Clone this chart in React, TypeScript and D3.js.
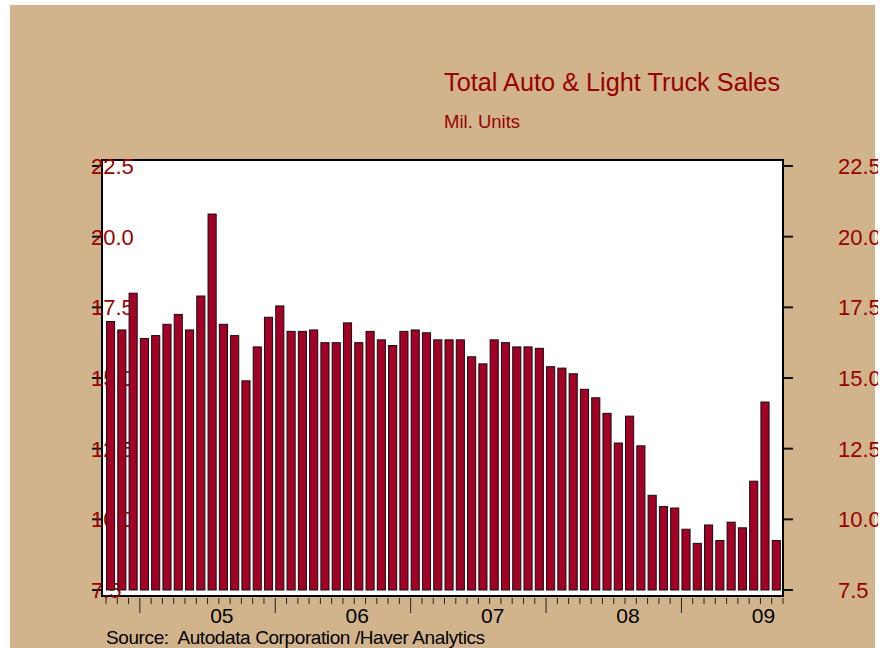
import React from 'react';
import * as d3 from 'd3';

// monthly SAAR, Oct 2004 - Sep 2009
const startMonth = new Date(2004, 9, 1);
const endMonth = new Date(2009, 9, 1);
const sales = [
  17.0, 16.7, 18.0,
  16.4, 16.5, 16.9, 17.25, 16.7, 17.9, 20.8, 16.9, 16.5, 14.9, 16.1, 17.15,
  17.55, 16.65, 16.65, 16.7, 16.25, 16.25, 16.95, 16.25, 16.65, 16.35, 16.15, 16.65,
  16.7, 16.6, 16.35, 16.35, 16.35, 15.75, 15.5, 16.35, 16.25, 16.1, 16.1, 16.05,
  15.4, 15.35, 15.15, 14.6, 14.3, 13.75, 12.7, 13.65, 12.6, 10.85, 10.45, 10.4,
  9.65, 9.15, 9.8, 9.25, 9.9, 9.7, 11.35, 14.15, 9.25,
];
const yTicks = [7.5, 10.0, 12.5, 15.0, 17.5, 20.0, 22.5];
const yearLabels = ['05', '06', '07', '08', '09'];

const TITLE = 'Total Auto & Light Truck Sales';
const UNITS = 'Mil. Units';
const SOURCE = 'Source:  Autodata Corporation /Haver Analytics';

const W = 895;
const H = 648;
const RED = '#990000';
const BAR = '#a30026';
const FONT = '"Liberation Sans", Arial, sans-serif';

const App = () => {
  const months = d3.timeMonth.range(startMonth, endMonth);
  const tickMonths = d3.timeMonth.range(startMonth, d3.timeMonth.offset(endMonth, 1));

  // month index -> pixel
  const x = d3.scaleLinear().domain([0, months.length]).range([106, 783]);
  const y = d3.scaleLinear().domain([7.5, 22.5]).range([590, 166]);
  const step = x(1) - x(0);

  const frame = { left: 102, right: 783, top: 160, bottom: 596 };

  const bars = sales.map((v, i) => (
    <rect
      key={'bar' + i}
      x={x(i) + 0.5}
      y={y(v)}
      width={step * 0.72}
      height={y(7.5) - y(v)}
      fill={BAR}
      stroke="#111"
      strokeWidth={1}
    />
  ));

  const xticks = tickMonths.map((m, i) => {
    const major = m.getMonth() === 0;
    return (
      <line
        key={'xt' + i}
        x1={x(i)}
        x2={x(i)}
        y1={598}
        y2={major ? 613 : 604}
        stroke="#222"
        strokeWidth={1}
      />
    );
  });

  const years = yearLabels.map((lab, i) => {
    const idx = months.findIndex(m => m.getFullYear() === 2005 + i && m.getMonth() === 0);
    return (
      <text
        key={'yr' + lab}
        x={x(idx) + 82}
        y={623}
        textAnchor="middle"
        fontSize={21}
        fill="#000"
      >
        {lab}
      </text>
    );
  });

  const leftLabels = yTicks.map(t => (
    <g key={'yl' + t}>
      <line x1={92} x2={frame.left} y1={y(t)} y2={y(t)} stroke="#111" strokeWidth={2} />
      <text x={91} y={y(t)} dy="0.36em" fontSize={22} fill={RED}>
        {t.toFixed(1)}
      </text>
    </g>
  ));

  const rightLabels = yTicks.map(t => (
    <g key={'yr' + t}>
      <line x1={frame.right} x2={793} y1={y(t)} y2={y(t)} stroke="#111" strokeWidth={2} />
      <text x={838} y={y(t)} dy="0.36em" fontSize={22} fill={RED} clipPath="url(#rightclip)">
        {t.toFixed(1)}
      </text>
    </g>
  ));

  return (
    <svg
      width={W}
      height={H}
      style={{ position: 'absolute', left: 0, top: 0, background: '#fff' }}
      fontFamily={FONT}
    >
      <defs>
        <clipPath id="rightclip">
          <rect x={0} y={0} width={878} height={H} />
        </clipPath>
      </defs>
      <rect x={10} y={5} width={865} height={H - 5} fill="#d2b48c" />

      <text x={444} y={90.5} fontSize={25.3} fill={RED}>{TITLE}</text>
      <text x={444} y={128.3} fontSize={18.5} fill={RED}>{UNITS}</text>

      <rect
        x={frame.left}
        y={frame.top}
        width={frame.right - frame.left}
        height={frame.bottom - frame.top}
        fill="#fff"
        stroke="#000"
        strokeWidth={2}
      />
      {leftLabels}
      {rightLabels}
      {bars}
      {xticks}
      {years}

      <text
        x={106}
        y={644}
        fontSize={19}
        letterSpacing={-0.4}
        fill="#000"
        style={{ whiteSpace: 'pre' }}
      >
        {SOURCE}
      </text>
    </svg>
  );
};

export default App;
